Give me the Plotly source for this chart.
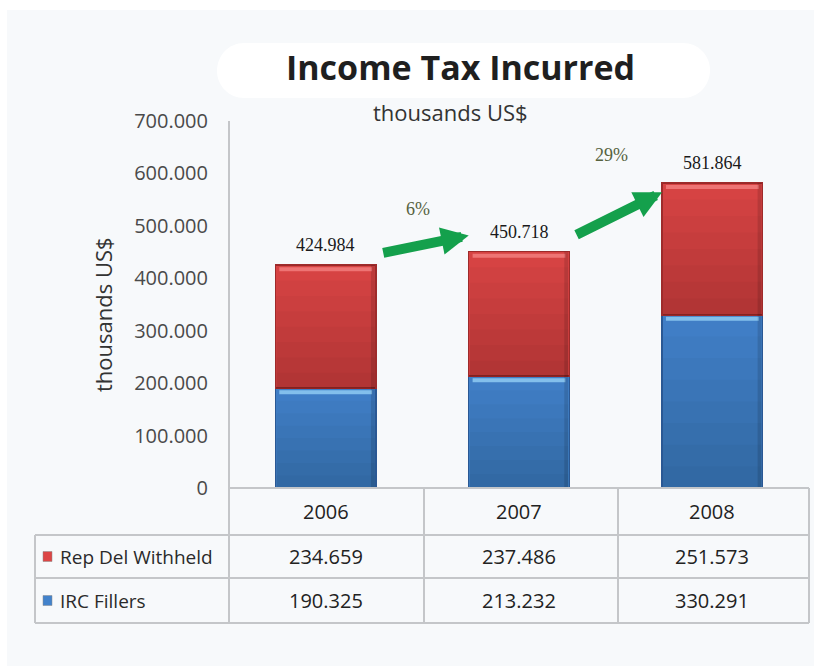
import plotly.graph_objects as go

# ---- data (values in US$ thousands) ----
years = ["2006", "2007", "2008"]
rep_del_withheld = [234659, 237486, 251573]
irc_fillers = [190325, 213232, 330291]
series_names = ["Rep Del Withheld", "IRC Fillers"]
y_ticks = [0, 100000, 200000, 300000, 400000, 500000, 600000, 700000]

totals = [a + b for a, b in zip(rep_del_withheld, irc_fillers)]

W, H = 814, 666
RED, RED_EDGE, RED_HI = "#dc4545", "#9e2b2b", "#f27c7c"
BLUE, BLUE_EDGE, BLUE_HI = "#4282cb", "#2a5894", "#8fcaf2"
GREEN = "#14a04c"
GRID = "#c4c6c9"
SANS = "Open Sans, Liberation Sans, Arial"
SERIF = "Liberation Serif, DejaVu Serif, serif"
HALF = 0.26  # half bar width in category units


def fmt(v):
    # thousands separator written as a dot
    return f"{v:,}".replace(",", ".")


def px(x):
    return x / W


def py(y):
    return (H - y) / H


# plot-area edges in pixels
X0, X1 = 229, 809
Y_TOP, Y_BASE = 121, 488
TABLE_ROWS = [535, 578, 623]
COL_EDGES = [229, 424, 618, 809]
TABLE_LEFT = 35

fig = go.Figure()
fig.add_trace(go.Bar(
    x=years, y=irc_fillers, name=series_names[1],
    marker=dict(color=BLUE, line=dict(color=BLUE_EDGE, width=1.5)),
    hoverinfo="skip",
))
fig.add_trace(go.Bar(
    x=years, y=rep_del_withheld, name=series_names[0],
    marker=dict(color=RED, line=dict(color=RED_EDGE, width=1.5)),
    hoverinfo="skip",
))

shapes = []
# light background panel
shapes.append(dict(type="rect", xref="paper", yref="paper", x0=px(7), x1=1, y0=0, y1=py(10),
                   fillcolor="#f7f9fb", line=dict(width=0), layer="below"))

# white rounded band behind the title
bx0, bx1, by0, by1, r = 217, 710, 43, 98, 27
k = 0.5523 * r
pts = [
    ("M", [(bx0 + r, by0)]),
    ("L", [(bx1 - r, by0)]),
    ("C", [(bx1 - r + k, by0), (bx1, by0 + r - k), (bx1, by0 + r)]),
    ("C", [(bx1, by1 - r + k), (bx1 - r + k, by1), (bx1 - r, by1)]),
    ("L", [(bx0 + r, by1)]),
    ("C", [(bx0 + r - k, by1), (bx0, by1 - r + k), (bx0, by1 - r)]),
    ("C", [(bx0, by0 + r - k), (bx0 + r - k, by0), (bx0 + r, by0)]),
]
path = " ".join(cmd + " " + " ".join(f"{px(a):.5f},{py(b):.5f}" for a, b in p) for cmd, p in pts) + " Z"
shapes.append(dict(type="path", xref="paper", yref="paper", path=path,
                   fillcolor="white", line=dict(width=0), layer="below"))

# soft vertical shading and top highlight on every bar segment
STEPS = 8
for i in range(len(years)):
    for base, top, hi in ((0, irc_fillers[i], BLUE_HI), (irc_fillers[i], totals[i], RED_HI)):
        for j in range(STEPS):
            shapes.append(dict(type="rect", xref="x", yref="y",
                               x0=i - HALF + 0.004, x1=i + HALF - 0.004,
                               y0=base, y1=base + (top - base) * (1 - j / STEPS),
                               fillcolor="black", opacity=0.022, line=dict(width=0)))
        shapes.append(dict(type="rect", xref="x", yref="y", ysizemode="pixel", yanchor=top,
                           x0=i - HALF + 0.02, x1=i + HALF - 0.02, y0=-6, y1=-2,
                           fillcolor=hi, line=dict(width=0), opacity=0.85))
        # darker right edge
        shapes.append(dict(type="rect", xref="x", yref="y", xsizemode="pixel", xanchor=i + HALF,
                           x0=-5, x1=-1, y0=base, y1=top,
                           fillcolor="black", opacity=0.12, line=dict(width=0)))

# data table grid
line = dict(color=GRID, width=2)
shapes.append(dict(type="line", xref="paper", yref="paper", x0=px(X0), x1=px(X0),
                   y0=py(Y_TOP), y1=py(TABLE_ROWS[-1]), line=line))
for xc in COL_EDGES[1:]:
    shapes.append(dict(type="line", xref="paper", yref="paper", x0=px(xc), x1=px(xc),
                       y0=py(Y_BASE), y1=py(TABLE_ROWS[-1]), line=line))
shapes.append(dict(type="line", xref="paper", yref="paper", x0=px(TABLE_LEFT), x1=px(TABLE_LEFT),
                   y0=py(TABLE_ROWS[0]), y1=py(TABLE_ROWS[-1]), line=line))
shapes.append(dict(type="line", xref="paper", yref="paper", x0=px(X0), x1=px(X1),
                   y0=py(Y_BASE), y1=py(Y_BASE), line=line))
for yr in TABLE_ROWS:
    shapes.append(dict(type="line", xref="paper", yref="paper", x0=px(TABLE_LEFT), x1=px(X1),
                       y0=py(yr), y1=py(yr), line=line))

# legend keys inside the table
for row, color in zip(range(2), (RED, BLUE)):
    yc = (TABLE_ROWS[row] + TABLE_ROWS[row + 1]) / 2
    shapes.append(dict(type="rect", xref="paper", yref="paper",
                       x0=px(43), x1=px(52), y0=py(yc + 5), y1=py(yc - 5),
                       fillcolor=color, line=dict(color="#8a8a8a", width=0.5)))


def label(text, x, y, size, color, family=SANS, xref="paper", yref="paper", **kw):
    d = dict(text=text, x=x, y=y, xref=xref, yref=yref, showarrow=False,
             xanchor="center", yanchor="middle",
             font=dict(family=family, size=size, color=color))
    d.update(kw)
    return d


annotations = []
# title and subtitle
annotations.append(label("<b>Income Tax Incurred</b>", px(460), py(67), 34, "#1f1f1f"))
annotations.append(label("thousands US$", px(450), py(112), 22, "#333333"))
# y-axis title
annotations.append(label("thousands US$", px(103), py(315), 22, "#333333", textangle=-90))

# totals above each stack
for i, t in enumerate(totals):
    annotations.append(label(fmt(t), i, t, 18, "#1a1a1a", family=SERIF, xref="x", yref="y",
                             yanchor="bottom", yshift=8))

# growth arrows between years
arrow_tail_off = [23000, 31000]
arrow_head_off = [31000, -18000]
pct_label_y = [532000, 635000]
for i in range(len(totals) - 1):
    pct = round((totals[i + 1] / totals[i] - 1) * 100)
    annotations.append(dict(text="", x=i + 0.74, y=totals[i + 1] + arrow_head_off[i],
                            ax=i + 0.29, ay=totals[i] + arrow_tail_off[i],
                            xref="x", yref="y", axref="x", ayref="y",
                            showarrow=True, arrowhead=2, arrowsize=0.55,
                            arrowwidth=10, arrowcolor=GREEN, standoff=0, startstandoff=0))
    annotations.append(label(f"{pct}%", i + 0.48, pct_label_y[i], 18, "#56623f",
                             family=SERIF, xref="x", yref="y"))

# year header row
yh = (Y_BASE + TABLE_ROWS[0]) / 2
for i, yv in enumerate(years):
    annotations.append(label(yv, i, py(yh), 20, "#222222", xref="x"))

# table body
for row, vals in enumerate((rep_del_withheld, irc_fillers)):
    yc = (TABLE_ROWS[row] + TABLE_ROWS[row + 1]) / 2
    annotations.append(label(series_names[row], px(58), py(yc), 19, "#2a2a2a", xanchor="left"))
    for i, v in enumerate(vals):
        annotations.append(label(fmt(v), i, py(yc), 20, "#222222", xref="x"))

fig.update_layout(
    width=W, height=H, autosize=False,
    margin=dict(l=0, r=0, t=0, b=0, autoexpand=False),
    paper_bgcolor="white", plot_bgcolor="rgba(0,0,0,0)",
    barmode="stack", bargap=1 - 2 * HALF,
    showlegend=False,
    shapes=shapes, annotations=annotations,
    xaxis=dict(domain=[px(X0), px(X1)], showgrid=False, zeroline=False, automargin=False,
               showline=False, ticks="", showticklabels=False),
    yaxis=dict(domain=[py(Y_BASE), py(Y_TOP)], range=[0, 700000], automargin=False,
               tickvals=y_ticks, ticktext=[fmt(v) for v in y_ticks],
               showgrid=False, zeroline=False, showline=False, ticks="",
               ticklabelstandoff=20,
               tickfont=dict(family=SANS, size=20, color="#4a4a4a")),
)

fig.write_html("out.html")
